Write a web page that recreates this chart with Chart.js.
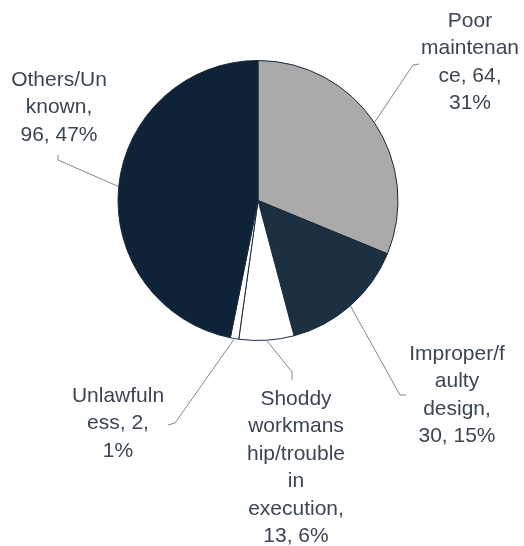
<!DOCTYPE html>
<html>
<head>
<meta charset="utf-8">
<script src="https://cdn.jsdelivr.net/npm/chart.js@4/dist/chart.umd.min.js"></script>
<style>
  html, body { margin: 0; padding: 0; background: #ffffff; }
  #wrap { width: 524px; height: 546px; position: relative; }
</style>
</head>
<body>
<div id="wrap"><canvas id="pie"></canvas></div>
<script>
// Causes of failure, counts per category
const categories = [
  "Poor maintenance",
  "Improper/faulty design",
  "Shoddy workmanship/trouble in execution",
  "Unlawfulness",
  "Others/Unknown"
];
const counts = [64, 30, 13, 2, 96];
const sliceColors = ["#aaaaaa", "#1b3142", "#ffffff", "#ffffff", "#0e2238"];

// Wrapped label text; {v} = count, {p} = percentage of total
const labelLines = [
  ["Poor", "maintenan", "ce, {v},", "{p}%"],
  ["Improper/f", "aulty", "design,", "{v}, {p}%"],
  ["Shoddy", "workmans", "hip/trouble", "in", "execution,", "{v}, {p}%"],
  ["Unlawfuln", "ess, {v},", "{p}%"],
  ["Others/Un", "known,", "{v}, {p}%"]
];

// Label placement: text centre x, first line centre y, leader elbow and end
const labelLayout = [
  { x: 470, y: 21,  elbow: [413, 65],  end: [419, 64] },
  { x: 457, y: 354, elbow: [400, 395], end: [406, 395] },
  { x: 296, y: 399, elbow: [292, 372], end: [292, 380] },
  { x: 118, y: 396, elbow: [175, 423], end: [168, 425] },
  { x: 59,  y: 80,  elbow: [58, 160],  end: [58, 155] }
];

const total = counts.reduce((a, b) => a + b, 0);

const leaderLabels = {
  id: "leaderLabels",
  afterDatasetsDraw(chart) {
    const ctx = chart.ctx;
    const arcs = chart.getDatasetMeta(0).data;
    ctx.save();
    arcs.forEach((arc, i) => {
      const p = arc.getProps(["x", "y", "startAngle", "endAngle", "outerRadius"], true);
      const mid = (p.startAngle + p.endAngle) / 2;
      const sx = p.x + Math.cos(mid) * p.outerRadius;
      const sy = p.y + Math.sin(mid) * p.outerRadius;
      const lay = labelLayout[i];
      ctx.beginPath();
      ctx.strokeStyle = "#7d8790";
      ctx.lineWidth = 1;
      ctx.moveTo(sx, sy);
      ctx.lineTo(lay.elbow[0], lay.elbow[1]);
      ctx.lineTo(lay.end[0], lay.end[1]);
      ctx.stroke();

      const pct = Math.round(counts[i] / total * 100);
      ctx.fillStyle = "#3b4652";
      ctx.font = '21px "Liberation Sans", Arial, sans-serif';
      ctx.textAlign = "center";
      ctx.textBaseline = "middle";
      labelLines[i].forEach((ln, k) => {
        const txt = ln.replace("{v}", counts[i]).replace("{p}", pct);
        ctx.fillText(txt, lay.x, lay.y + k * 27.5);
      });
    });
    ctx.restore();
  }
};

new Chart(document.getElementById("pie"), {
  type: "pie",
  data: {
    labels: categories,
    datasets: [{
      data: counts,
      backgroundColor: sliceColors,
      borderColor: "#1a2a38",
      borderWidth: 1
    }]
  },
  options: {
    responsive: true,
    maintainAspectRatio: false,
    animation: false,
    layout: { padding: { top: 60, bottom: 205, left: 117, right: 125 } },
    plugins: {
      legend: { display: false },
      tooltip: { enabled: false }
    }
  },
  plugins: [leaderLabels]
});
</script>
</body>
</html>
